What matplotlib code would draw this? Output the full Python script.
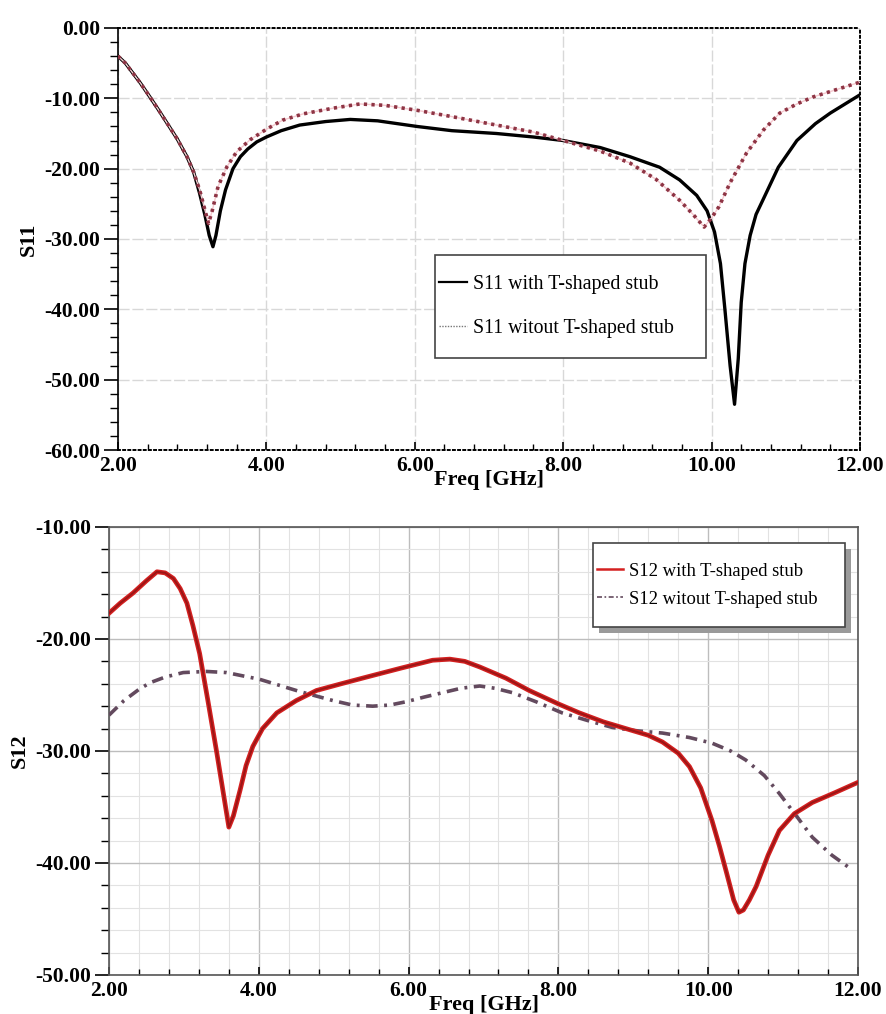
import matplotlib
matplotlib.use('Agg')
import matplotlib.pyplot as plt
import matplotlib.ticker as mticker
from matplotlib.lines import Line2D
from matplotlib.patches import Rectangle

plt.rcParams['font.family'] = ['Liberation Serif', 'DejaVu Serif']

# S11 with T-shaped stub
f_s11_with = [2.0, 2.1, 2.2, 2.3, 2.43, 2.55, 2.66, 2.8, 2.93, 3.02, 3.1, 3.17, 3.23, 3.28,
              3.32, 3.38, 3.45, 3.55, 3.65, 3.75, 3.87, 4.0, 4.2, 4.45, 4.8, 5.13, 5.5, 6.03,
              6.5, 7.1, 7.6, 8.0, 8.5, 8.9, 9.3, 9.57, 9.8, 9.94, 10.04, 10.12, 10.18, 10.25,
              10.31, 10.36, 10.40, 10.45, 10.52, 10.6, 10.69, 10.9, 11.15, 11.4, 11.6, 11.8, 12.0]
s11_with = [-4.0, -5.0, -6.4, -7.8, -9.8, -11.7, -13.5, -15.8, -18.3, -20.5, -23.5, -26.5,
            -29.5, -31.1, -29.5, -26.0, -23.0, -20.0, -18.3, -17.2, -16.2, -15.5, -14.6, -13.8,
            -13.3, -13.0, -13.2, -14.0, -14.6, -15.0, -15.5, -16.0, -17.0, -18.3, -19.8, -21.6,
            -23.8, -26.0, -29.0, -33.5, -40.0, -48.0, -53.5, -47.0, -39.0, -33.5, -29.5, -26.5,
            -24.5, -19.8, -16.0, -13.6, -12.1, -10.8, -9.5]

# S11 without T-shaped stub
f_s11_without = [2.0, 2.1, 2.2, 2.3, 2.43, 2.55, 2.66, 2.8, 2.93, 3.02, 3.1, 3.17, 3.22, 3.27,
                 3.35, 3.47, 3.6, 3.78, 4.0, 4.22, 4.5, 4.9, 5.26, 5.6, 6.03, 6.5, 7.1, 7.6,
                 8.0, 8.5, 8.9, 9.25, 9.57, 9.75, 9.9, 10.0, 10.1, 10.25, 10.47, 10.7, 10.92,
                 11.15, 11.37, 11.7, 12.0]
s11_without = [-4.0, -5.0, -6.4, -7.8, -9.8, -11.7, -13.5, -15.8, -18.3, -20.5, -23.0, -25.8,
               -27.8, -26.0, -22.5, -19.7, -17.6, -15.9, -14.4, -13.1, -12.2, -11.4, -10.8,
               -11.0, -11.7, -12.6, -13.8, -14.8, -16.0, -17.5, -19.2, -21.5, -24.5, -26.5,
               -28.3, -27.0, -25.4, -22.0, -17.8, -14.5, -12.1, -10.8, -9.8, -8.7, -7.7]

# S12 with T-shaped stub
f_s12_with = [2.0, 2.15, 2.32, 2.5, 2.64, 2.75, 2.86, 2.95, 3.04, 3.12, 3.21, 3.32, 3.44, 3.52,
              3.6, 3.66, 3.75, 3.83, 3.92, 4.05, 4.24, 4.5, 4.77, 5.1, 5.44, 5.9, 6.32, 6.55,
              6.75, 6.95, 7.3, 7.61, 8.0, 8.28, 8.6, 8.95, 9.2, 9.39, 9.6, 9.75, 9.9, 10.05,
              10.15, 10.25, 10.34, 10.41, 10.47, 10.55, 10.64, 10.8, 10.95, 11.15, 11.39, 11.7,
              12.0]
s12_with = [-17.7, -16.8, -15.9, -14.8, -14.0, -14.1, -14.6, -15.5, -16.8, -18.8, -21.3, -25.5,
            -30.2, -33.5, -36.8, -35.8, -33.5, -31.3, -29.6, -28.0, -26.6, -25.5, -24.6, -24.0,
            -23.4, -22.6, -21.9, -21.8, -22.0, -22.5, -23.5, -24.6, -25.8, -26.6, -27.4, -28.1,
            -28.6, -29.2, -30.2, -31.4, -33.3, -36.2, -38.5, -41.0, -43.3, -44.4, -44.2, -43.3,
            -42.1, -39.3, -37.1, -35.6, -34.6, -33.7, -32.8]

# S12 without T-shaped stub
f_s12_without = [2.0, 2.2, 2.4, 2.55, 2.75, 2.99, 3.3, 3.57, 4.01, 4.55, 4.99, 5.25, 5.52, 5.75,
                 5.97, 6.2, 6.45, 6.7, 6.95, 7.15, 7.39, 7.7, 8.05, 8.4, 8.72, 9.05, 9.39, 9.75,
                 10.05, 10.3, 10.5, 10.75, 10.95, 11.2, 11.39, 11.65, 11.92]
s12_without = [-26.8, -25.5, -24.5, -23.9, -23.4, -23.0, -22.9, -23.0, -23.6, -24.7, -25.5,
               -25.9, -26.0, -25.9, -25.6, -25.2, -24.8, -24.4, -24.2, -24.4, -24.8, -25.6,
               -26.6, -27.3, -27.9, -28.2, -28.4, -28.8, -29.3, -30.0, -30.8, -32.2, -33.8,
               -36.0, -37.7, -39.3, -40.6]

fig = plt.figure(figsize=(8.87, 10.14), dpi=100)
ax1 = fig.add_axes([0.133, 0.5562, 0.8365, 0.4162])
ax2 = fig.add_axes([0.1229, 0.0385, 0.8444, 0.4418])

fmt = mticker.FormatStrFormatter('%.2f')

# ---- top plot (S11)
ax1.plot(f_s11_with, s11_with, color='black', lw=2.4, zorder=3)
ax1.plot(f_s11_without, s11_without, color='#f5c8ce', lw=1.0, zorder=3.5)
ax1.plot(f_s11_without, s11_without, color='#8e3444', lw=2.6, linestyle=(0, (0.9, 1.2)), zorder=4)

ax1.set_xlim(2, 12)
ax1.set_ylim(-60, 0)
ax1.xaxis.set_major_locator(mticker.MultipleLocator(2))
ax1.xaxis.set_minor_locator(mticker.MultipleLocator(0.4))
ax1.yaxis.set_major_locator(mticker.MultipleLocator(10))
ax1.yaxis.set_minor_locator(mticker.MultipleLocator(2))
ax1.xaxis.set_major_formatter(fmt)
ax1.yaxis.set_major_formatter(fmt)
ax1.grid(True, which='major', color='#d8d8d8', lw=1, linestyle=(0, (8, 2)))
ax1.set_axisbelow(True)
for s in ['top', 'right', 'bottom']:
    ax1.spines[s].set_linestyle(':')
    ax1.spines[s].set_linewidth(1.4)
ax1.spines['left'].set_linewidth(1.2)
ax1.tick_params(axis='y', which='major', direction='out', length=10, width=1.2, pad=3)
ax1.tick_params(axis='y', which='minor', direction='out', length=6, width=1)
ax1.tick_params(axis='x', which='major', direction='in', length=6, width=1.2, pad=4)
ax1.tick_params(axis='x', which='minor', direction='in', length=4, width=1)
for lab in ax1.get_xticklabels() + ax1.get_yticklabels():
    lab.set_fontsize(15.5)
    lab.set_fontweight('bold')
ax1.set_xlabel('Freq [GHz]', fontsize=16, fontweight='bold', labelpad=-4)
ax1.set_ylabel('S11', fontsize=16, fontweight='bold', labelpad=4)

ax1.add_patch(Rectangle((0.427, 0.218), 0.365, 0.244, transform=ax1.transAxes,
                        facecolor='white', edgecolor='#444444', lw=1.2, zorder=5))
h1 = [Line2D([], [], color='black', lw=1.6),
      Line2D([], [], color='#777777', lw=1.0, linestyle=(0, (1, 1)))]
leg1 = ax1.legend(h1, ['S11 with T-shaped stub', 'S11 witout T-shaped stub'],
                  loc='center left', bbox_to_anchor=(0.427, 0.34), frameon=False,
                  fontsize=14.3, handlelength=1.4, handletextpad=0.3,
                  labelspacing=1.25, borderpad=0.2, borderaxespad=0)
leg1.set_zorder(6)

# ---- bottom plot (S12)
ax2.plot(f_s12_without, s12_without, color='#634a5e', lw=2.6,
         linestyle=(0, (3.2, 1.8, 0.8, 1.8)), zorder=3)
ax2.plot(f_s12_with, s12_with, color='#d42020', lw=3.4, zorder=4)
ax2.plot(f_s12_with, s12_with, color='#9c1616', lw=1.4, zorder=4.5)

ax2.set_xlim(2, 12)
ax2.set_ylim(-50, -10)
ax2.xaxis.set_major_locator(mticker.MultipleLocator(2))
ax2.xaxis.set_minor_locator(mticker.MultipleLocator(0.4))
ax2.yaxis.set_major_locator(mticker.MultipleLocator(10))
ax2.yaxis.set_minor_locator(mticker.MultipleLocator(2))
ax2.xaxis.set_major_formatter(fmt)
ax2.yaxis.set_major_formatter(fmt)
ax2.grid(True, which='major', color='#bdbdbd', lw=1)
ax2.grid(True, which='minor', color='#e2e2e2', lw=0.8)
ax2.set_axisbelow(True)
for s in ax2.spines.values():
    s.set_color('#555555')
    s.set_linewidth(1.2)
ax2.tick_params(axis='y', which='major', direction='out', length=10, width=1.2, pad=3)
ax2.tick_params(axis='y', which='minor', direction='out', length=6, width=1)
ax2.tick_params(axis='x', which='major', direction='in', length=6, width=1.2, pad=4)
ax2.tick_params(axis='x', which='minor', direction='in', length=4, width=1)
for lab in ax2.get_xticklabels() + ax2.get_yticklabels():
    lab.set_fontsize(15.5)
    lab.set_fontweight('bold')
ax2.set_xlabel('Freq [GHz]', fontsize=16, fontweight='bold', labelpad=-4)
ax2.set_ylabel('S12', fontsize=16, fontweight='bold', labelpad=4)

ax2.add_patch(Rectangle((0.654, 0.764), 0.337, 0.187, transform=ax2.transAxes,
                        facecolor='#9a9a9a', edgecolor='none', zorder=5))
ax2.add_patch(Rectangle((0.646, 0.777), 0.337, 0.187, transform=ax2.transAxes,
                        facecolor='white', edgecolor='#444444', lw=1.2, zorder=5.5))
h2 = [Line2D([], [], color='#d42020', lw=1.8),
      Line2D([], [], color='#634a5e', lw=1.2, linestyle=(0, (3, 1.5, 1, 1.5)))]
leg2 = ax2.legend(h2, ['S12 with T-shaped stub', 'S12 witout T-shaped stub'],
                  loc='center left', bbox_to_anchor=(0.646, 0.870), frameon=False,
                  fontsize=13.4, handlelength=1.4, handletextpad=0.35,
                  labelspacing=0.6, borderpad=0.2, borderaxespad=0)
leg2.set_zorder(6)

fig.savefig('out.png', dpi=100)
